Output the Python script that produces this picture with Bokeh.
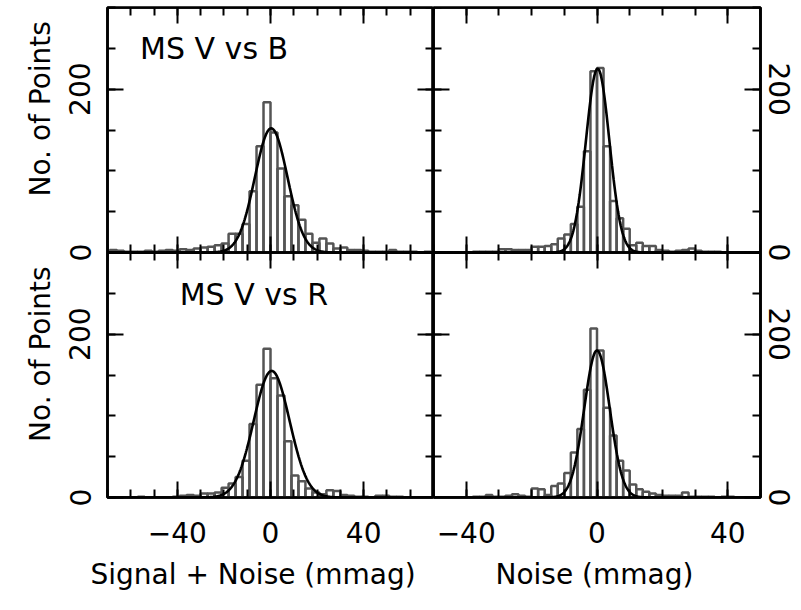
import numpy as np
from bokeh.plotting import figure
from bokeh.layouts import row
from bokeh.models import Range1d, LinearAxis, FixedTicker, ColumnDataSource, Title
from bokeh.core.properties import value
from bokeh.embed import file_html
from bokeh.resources import INLINE

FONT = "DejaVu Sans"

# ---------------- data ----------------
# left panels (Signal + Noise): bins of 3 mmag starting at -69
sn_bin_start = -69
sn_bin_width = 3
ms_v_vs_b_signal_counts = [3, 2, 1, 1, 1, 2, 1, 2, 3, 2,
                           4, 3, 5, 6, 7, 9, 11, 23, 23, 35,
                           75, 130, 184, 147, 103, 69, 58, 40, 23, 12,
                           17, 11, 5, 6, 3, 3, 2, 1, 1, 1,
                           3, 1, 1, 1, 0, 1]
ms_v_vs_r_signal_counts = [0, 0, 0, 0, 1, 0, 0, 0, 0, 1,
                           2, 3, 2, 5, 5, 6, 12, 17, 25, 45,
                           90, 138, 182, 146, 125, 69, 27, 20, 11, 6,
                           4, 9, 8, 3, 2, 1, 1, 0, 2, 2,
                           1, 1, 0, 0, 0, 0]
# right panels (Noise): bins of 2 mmag starting at -50
n_bin_start = -50
n_bin_width = 2
ms_v_vs_b_noise_counts = [0, 0, 0, 0, 0, 0, 1, 1, 1, 1,
                          4, 4, 3, 3, 3, 7, 7, 8, 10, 17,
                          22, 35, 56, 124, 222, 226, 130, 63, 42, 29,
                          9, 12, 8, 8, 3, 2, 1, 2, 3, 5,
                          2, 1, 1, 1, 0, 0, 0, 0, 0, 0]
ms_v_vs_r_noise_counts = [0, 0, 0, 0, 0, 0, 1, 1, 3, 1,
                          1, 2, 4, 2, 1, 11, 10, 3, 14, 17,
                          30, 55, 84, 132, 207, 180, 110, 76, 45, 33,
                          16, 10, 7, 5, 3, 2, 2, 2, 6, 1,
                          1, 1, 1, 0, 1, 1, 0, 0, 0, 0]

# gaussian fits: (amplitude, mean, sigma)
fit_b_signal = (152, 0.3, 7.0)
fit_b_noise = (225, 0.2, 3.6)
fit_r_signal = (155, 0.5, 7.7)
fit_r_noise = (180, 0.0, 3.9)

panel_titles = ["MS V vs B", "MS V vs R"]
x_tick_values = [-40, 0, 40]
y_tick_values = [0, 200]
y_max = 300
y_label = "No. of Points"
x_label_left = "Signal + Noise (mmag)"
x_label_right = "Noise (mmag)"

# Each column figure holds a bottom panel (y range "default": 0..600, lower half)
# and a top panel (y range "T": -300..300, upper half).
y_stack_ticks = y_tick_values + [v + y_max for v in y_tick_values]
y_stack_labels = {v + y_max: str(v) for v in y_tick_values}
y_stack_minor = list(range(0, 2 * y_max + 1, 50))
minus = {-40: "\u221240"}

# one rotated title per row, laid out along the shared left edge
EM, EN = "\u2003", "\u2002"
y_label_text = EM + EN + y_label + EM + EM + EN + y_label


def style_ticks(ax):
    ax.major_tick_in = 16
    ax.major_tick_out = 0
    ax.minor_tick_in = 8
    ax.minor_tick_out = 0
    ax.major_tick_line_color = "black"
    ax.minor_tick_line_color = "black"
    ax.major_tick_line_width = 2
    ax.minor_tick_line_width = 2
    ax.axis_line_color = "black"
    ax.axis_line_width = 2.6


def tick_axis(p, side, fixed, ticks, minor):
    ax = LinearAxis(fixed_location=fixed, ticker=FixedTicker(ticks=ticks, minor_ticks=minor))
    style_ticks(ax)
    ax.major_label_text_color = None
    ax.major_label_standoff = 0
    p.add_layout(ax, side)


def label_axis(p, side, ticks, minor, overrides, orientation, standoff, label=None, label_standoff=10):
    ax = LinearAxis(ticker=FixedTicker(ticks=ticks, minor_ticks=minor))
    style_ticks(ax)
    ax.major_label_text_font = FONT
    ax.major_label_text_font_size = "28px"
    ax.major_label_text_color = "black"
    ax.major_label_standoff = standoff
    ax.major_label_orientation = orientation
    ax.major_label_overrides = overrides
    if label:
        ax.axis_label = label
        ax.axis_label_text_font = FONT
        ax.axis_label_text_font_size = "28px"
        ax.axis_label_text_font_style = "normal"
        ax.axis_label_text_color = "black"
        ax.axis_label_standoff = label_standoff
    p.add_layout(ax, side)


def x_title(p, text, offset):
    t = Title(text=text, align="left", offset=offset, standoff=20,
              text_font=FONT, text_font_size="28px", text_font_style="normal",
              text_color="black")
    p.add_layout(t, "below")


def make_column(xlim, bin_start, bin_width, counts_top, counts_bottom, fit_top, fit_bottom,
                width, border_left, border_right):
    p = figure(width=width, height=610,
               x_range=Range1d(*xlim), y_range=Range1d(0, 2 * y_max),
               x_axis_type=None, y_axis_type=None,
               output_backend="svg", toolbar_location=None,
               min_border_left=border_left, min_border_right=border_right,
               min_border_top=7, min_border_bottom=113)
    p.extra_y_ranges = {"T": Range1d(-y_max, y_max)}
    p.outline_line_color = "black"
    p.outline_line_width = 2.6
    p.background_fill_color = "white"
    p.border_fill_color = "white"

    for yname, counts, fit in (("T", counts_top, fit_top), ("default", counts_bottom, fit_bottom)):
        n = len(counts)
        left = bin_start + bin_width * np.arange(n)
        src = ColumnDataSource(dict(left=left, right=left + bin_width, top=counts, bottom=np.zeros(n)))
        p.quad(left="left", right="right", top="top", bottom="bottom", source=src,
               y_range_name=yname, fill_color=None, line_color="#555555", line_width=2.5)
        amp, mu, sig = fit
        xs = np.linspace(xlim[0], xlim[1], 600)
        ys = amp * np.exp(-0.5 * ((xs - mu) / sig) ** 2)
        p.line(xs, ys, y_range_name=yname, line_color="black", line_width=2.6)

    x_minor = list(range(xlim[0], xlim[1] + 1, 10))
    # ticks on the top edge and the inner horizontal edges
    tick_axis(p, "above", 2 * y_max, x_tick_values, x_minor)
    tick_axis(p, "above", y_max, x_tick_values, x_minor)
    tick_axis(p, "below", y_max, x_tick_values, x_minor)
    return p, x_minor


left_fig, sn_minor = make_column((-70, 70), sn_bin_start, sn_bin_width,
                                 ms_v_vs_b_signal_counts, ms_v_vs_r_signal_counts,
                                 fit_b_signal, fit_r_signal, 433, 107, 0)
right_fig, n_minor = make_column((-50, 50), n_bin_start, n_bin_width,
                                 ms_v_vs_b_noise_counts, ms_v_vs_r_noise_counts,
                                 fit_b_noise, fit_r_noise, 368, 0, 41)

# left column: labelled left + bottom axes, ticks on the shared right edge
label_axis(left_fig, "left", y_stack_ticks, y_stack_minor, y_stack_labels, "vertical", 17,
           label=y_label_text, label_standoff=10)
label_axis(left_fig, "below", x_tick_values, sn_minor, minus, "horizontal", 24)
x_title(left_fig, x_label_left, -17)
tick_axis(left_fig, "right", 70, y_stack_ticks, y_stack_minor)

# right column: labelled right + bottom axes, ticks on the shared left edge
label_axis(right_fig, "right", y_stack_ticks, y_stack_minor, y_stack_labels, "vertical", 8)
label_axis(right_fig, "below", x_tick_values, n_minor, minus, "horizontal", 24)
x_title(right_fig, x_label_right, 62)
tick_axis(right_fig, "left", -50, y_stack_ticks, y_stack_minor)

# panel titles
left_fig.text(x=[-56], y=[250], text=[panel_titles[0]], y_range_name="T",
              text_font=value(FONT), text_font_size=value("30px"), text_color="black",
              text_baseline=value("alphabetic"))
left_fig.text(x=[-39], y=[249], text=[panel_titles[1]],
              text_font=value(FONT), text_font_size=value("30px"), text_color="black",
              text_baseline=value("alphabetic"))

layout = row(left_fig, right_fig, spacing=0)
open("out.html", "w").write(file_html(layout, INLINE))
